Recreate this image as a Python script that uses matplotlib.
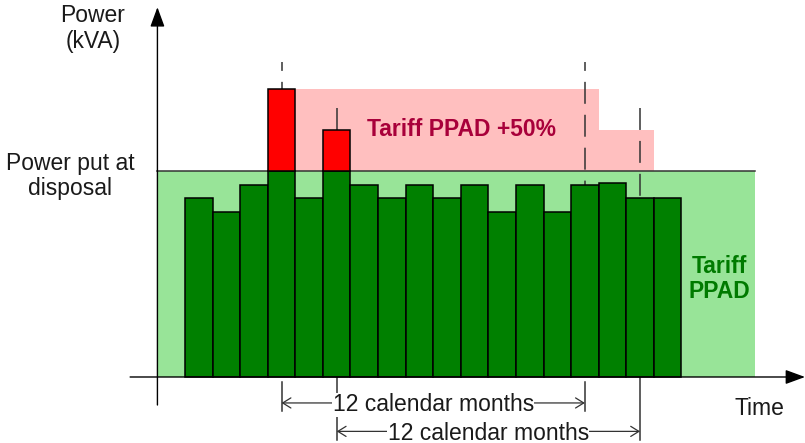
import matplotlib
matplotlib.use("Agg")
import matplotlib.pyplot as plt
import numpy as np

plt.rcParams["font.family"] = ["Liberation Sans", "DejaVu Sans"]
plt.rcParams["lines.scale_dashes"] = False

# monthly peak demand, in % of the power put at disposal
months = np.arange(18)
power = [87, 80, 93, 140, 87, 120, 93, 87, 93, 87, 93, 80, 93, 80, 93, 94, 87, 87]
ppad = 100

# surcharge periods (+50 % tariff) after each overrun
pen_start = [4, 15]
pen_end = [15, 17]
pen_level = [140, 120]

# month markers of the two overruns and the end of their 12-month windows
peak_x = [3.5, 5.5]
window_end_x = [14.5, 16.5]
marker_top = [153, 130.5]
window_label = "12 calendar months"

GREEN = "#008000"
LIGHT_GREEN = "#98e498"
PINK = "#ffbfbf"
RED = "#ff0000"
INK = "#1a1a1a"
GREY = "#333333"

fig = plt.figure(figsize=(8.05, 4.43), dpi=100)
ax = fig.add_axes([0, 0, 1, 1])
ax.set_xlim(-6.708, 22.48)
ax.set_ylim(-32.04, 183.0)
ax.axis("off")

# tariff zones
ax.fill_between([-1, 20.65], 0, ppad, color=LIGHT_GREEN, lw=0, zorder=1)
pen_start = np.array(pen_start)
ax.bar(pen_start, np.array(pen_level) - ppad, width=np.array(pen_end) - pen_start,
       bottom=ppad, align="edge", color=PINK, lw=0, zorder=1)
ax.plot([-1, 20.65], [ppad, ppad], color=GREY, lw=1.1, zorder=2)

# dashed month markers
dash_on, dash_off = 15.8, 7.9
for xs, top, off in [(peak_x[0], marker_top[0], 9.4), (window_end_x[0], marker_top[0], 9.4),
                     (peak_x[1], marker_top[1], 0), (window_end_x[1], marker_top[1], 0)]:
    ax.plot([xs, xs], [top, 0], color=GREY, lw=1.1,
            linestyle=(off, (dash_on, dash_off)), zorder=2)

# monthly bars: within PPAD in green, overrun in red
green_part = np.minimum(power, ppad)
red_part = np.maximum(np.array(power) - ppad, 0)
ax.bar(months, green_part, width=1, align="edge", color=GREEN,
       edgecolor="black", lw=1.1, zorder=3)
over = red_part > 0
ax.bar(months[over], red_part[over], width=1, bottom=ppad, align="edge",
       color=RED, edgecolor="black", lw=1.1, zorder=3)

# axes with arrow heads
head = dict(arrowstyle="-|>,head_length=0.6,head_width=0.22", mutation_scale=20,
            color="black", lw=1.0, shrinkA=0, shrinkB=0)
ax.annotate("", xy=(22.48, 0), xytext=(-1.99, 0), arrowprops=head, zorder=5)
ax.annotate("", xy=(-1.0, 179.5), xytext=(-1.0, -13.6), arrowprops=head, zorder=5)

# 12-month windows below the time axis
dim = dict(arrowstyle="<->,head_length=0.42,head_width=0.26", mutation_scale=14,
           color=GREY, lw=0.9, shrinkA=0, shrinkB=0)
for (x0, x1), y, (t0, t1) in [((peak_x[0], window_end_x[0]), -12.6, (-2.4, -16.3)),
                              ((peak_x[1], window_end_x[1]), -26.4, (0, -30.6))]:
    ax.plot([x0, x0], [t0, t1], color=GREY, lw=1.1, zorder=2)
    ax.plot([x1, x1], [t0, t1], color=GREY, lw=1.1, zorder=2)
    ax.annotate("", xy=(x1, y), xytext=(x0, y), arrowprops=dim, zorder=3)
    ax.text((x0 + x1) / 2, y - 4.0, window_label, ha="center", va="baseline",
            fontsize=16.5, color=INK, zorder=4,
            bbox=dict(facecolor="white", edgecolor="none", pad=0.3))

# labels
ax.text(-3.34, 169.2, "Power\n(kVA)", ha="center", va="center", fontsize=16.5,
        color=INK, linespacing=1.15)
ax.text(-4.17, 97.6, "Power put at\ndisposal", ha="center", va="center",
        fontsize=16.5, color=INK, linespacing=1.15)
ax.text(20.81, -18.4, "Time", ha="center", va="baseline", fontsize=16.5, color=INK)
ax.text(10.04, 120.1, "Tariff PPAD +50%", ha="center", va="center",
        fontsize=16.5, fontweight="bold", color="#a8003a", zorder=4)
ax.text(19.36, 47.6, "Tariff\nPPAD", ha="center", va="center", fontsize=16.5,
        fontweight="bold", color="#007a00", linespacing=1.15, zorder=4)

fig.savefig("out.png", dpi=100)
